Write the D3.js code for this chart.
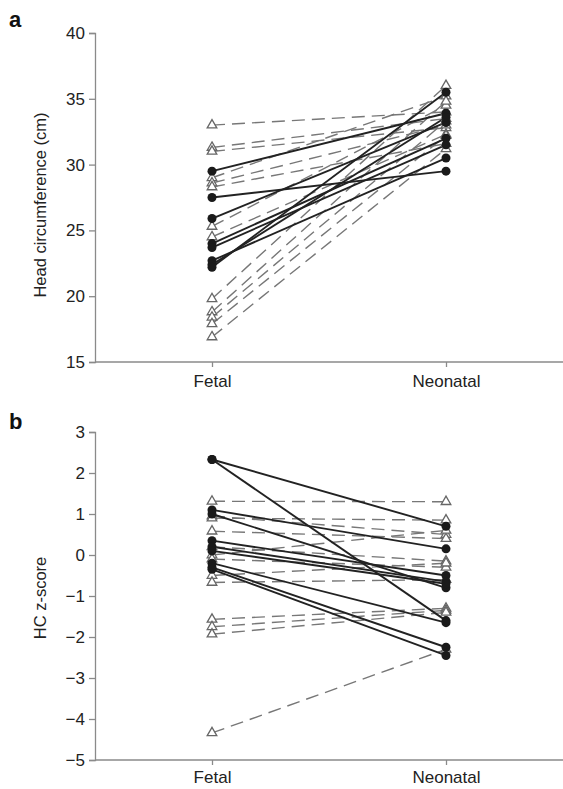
<!DOCTYPE html>
<html><head><meta charset="utf-8">
<script src="https://cdn.jsdelivr.net/npm/d3@7"></script>
<style>body{margin:0;background:#fff}svg{display:block}text{font-family:"Liberation Sans",Arial,sans-serif}</style>
</head><body>
<svg id="c" width="563" height="789"></svg>
<script>
const categories = ["Fetal", "Neonatal"];
// Panel a: head circumference (cm)
const aTicks = [15, 20, 25, 30, 35, 40];
const aSolidFetal    = [29.5, 27.5, 25.9, 24.0, 23.7, 22.7, 22.4, 22.2];
const aSolidNeonatal = [33.9, 29.5, 33.2, 32.0, 31.5, 30.5, 33.6, 35.5];
const aDashFetal     = [33.0, 31.3, 31.0, 29.0, 28.6, 28.3, 25.3, 24.5, 19.8, 18.8, 18.4, 17.9, 16.9];
const aDashNeonatal  = [34.0, 33.5, 32.8, 35.2, 33.0, 31.6, 34.5, 32.3, 36.0, 34.8, 33.3, 32.2, 31.2];
// Panel b: HC z-score
const bTicks = [-5, -4, -3, -2, -1, 0, 1, 2, 3];
const bSolidFetal    = [2.33, 2.33, 1.1, 1.0, 0.35, 0.2, 0.1, -0.2, -0.3, -0.35];
const bSolidNeonatal = [0.7, -1.6, 0.15, -0.8, -0.5, -0.65, -0.7, -1.65, -2.25, -2.45];
const bDashFetal     = [1.31, 0.95, 0.9, 0.58, 0.2, 0.0, -0.1, -0.5, -0.67, -1.57, -1.75, -1.93, -4.34];
const bDashNeonatal  = [1.3, 0.5, 0.85, 0.4, -0.15, 0.6, -0.3, -0.2, -0.6, -1.3, -1.35, -1.4, -2.3];

const svg = d3.select("#c");
const x = d3.scalePoint().domain(categories).range([95, 563]).padding(0.5);

function panel(cfg) {
  const y = d3.scaleLinear().domain(cfg.domain).range(cfg.range);
  const g = svg.append("g");
  const yAx = g.append("g").attr("transform", "translate(95,0)")
    .call(d3.axisLeft(y).tickValues(cfg.ticks).tickSize(6).tickPadding(4).tickFormat(d => d < 0 ? "\u2212" + Math.abs(d) : d));
  const xAx = g.append("g").attr("transform", `translate(0,${cfg.range[0]})`)
    .call(d3.axisBottom(x).tickSize(5).tickPadding(cfg.xPad));
  [yAx, xAx].forEach(a => {
    a.select(".domain").attr("stroke", "#8a8a8a").attr("stroke-width", 1.3);
    a.selectAll(".tick line").attr("stroke", "#8a8a8a").attr("stroke-width", 1.3);
    a.selectAll(".tick text").attr("fill", "#222").attr("font-size", 17);
  });
  xAx.select(".domain").attr("d", `M95,0H563`);
  g.append("text").attr("transform", `translate(46,${cfg.labelY}) rotate(-90)`)
    .attr("text-anchor", "middle").attr("font-size", 16.5).attr("fill", "#222").text(cfg.label);
  g.append("text").attr("x", 9).attr("y", cfg.letterY).attr("font-size", 22).attr("font-weight", "bold")
    .attr("fill", "#111").text(cfg.letter);

  const dash = cfg.dashF.map((v, i) => [v, cfg.dashN[i]]);
  const solid = cfg.solidF.map((v, i) => [v, cfg.solidN[i]]);
  const line = d => `M${x(categories[0])},${y(d[0])}L${x(categories[1])},${y(d[1])}`;
  g.selectAll(".dl").data(dash).join("path").attr("d", line)
    .attr("stroke", "#777").attr("stroke-width", 1.4).attr("stroke-dasharray", "13,7").attr("fill", "none");
  g.selectAll(".sl").data(solid).join("path").attr("d", line)
    .attr("stroke", "#222").attr("stroke-width", 1.9).attr("fill", "none");
  const tri = d3.symbol().type(d3.symbolTriangle).size(40);
  const pts = (arr, ci) => arr.map(v => [categories[ci], v]);
  const triPts = pts(cfg.dashF, 0).concat(pts(cfg.dashN, 1));
  g.selectAll(".tr").data(triPts).join("path").attr("d", tri)
    .attr("transform", d => `translate(${x(d[0])},${y(d[1])})`)
    .attr("fill", "#fff").attr("stroke", "#666").attr("stroke-width", 1.3);
  const cPts = pts(cfg.solidF, 0).concat(pts(cfg.solidN, 1));
  g.selectAll(".ci").data(cPts).join("circle")
    .attr("cx", d => x(d[0])).attr("cy", d => y(d[1])).attr("r", 4.5).attr("fill", "#1a1a1a");
}

panel({domain: [15, 40], range: [362, 33], ticks: aTicks, label: "Head circumference (cm)", labelY: 205, xPad: 8,
  letter: "a", letterY: 27, solidF: aSolidFetal, solidN: aSolidNeonatal, dashF: aDashFetal, dashN: aDashNeonatal});
panel({domain: [-5, 3], range: [760, 432], ticks: bTicks, label: "HC z-score", labelY: 598, xPad: 6,
  letter: "b", letterY: 429, solidF: bSolidFetal, solidN: bSolidNeonatal, dashF: bDashFetal, dashN: bDashNeonatal});
</script>
</body></html>
